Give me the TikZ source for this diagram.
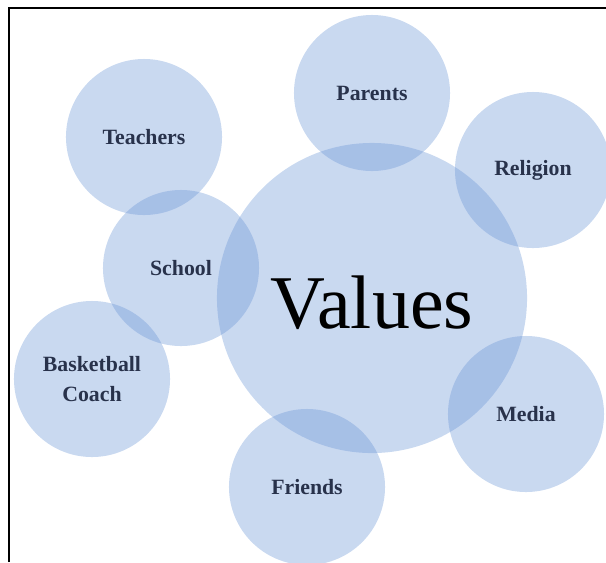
\documentclass[tikz,border=0pt]{standalone}
\usepackage{fontspec}
\setmainfont{Liberation Serif}
\usepackage{xcolor}
\usepackage{tikz}
\definecolor{blauw}{RGB}{100,145,212}
\definecolor{inkt}{RGB}{40,50,75}

\begin{document}
\begin{tikzpicture}[x=0.025cm, y=-0.025cm,
    bel/.style={circle, inner sep=0pt, minimum size=3.9cm, fill=blauw, fill opacity=0.35,
      text opacity=1, text=inkt, align=center, font=\fontsize{15.5}{18}\selectfont\bfseries},
    grotebel/.style={bel, minimum size=7.75cm, text=black, font=\fontsize{54}{60}\selectfont}]
  \useasboundingbox (0,0) rectangle (606,562);
  % Kader (links en boven)
  \draw[line width=2pt] (9,562) -- (9,8) -- (606,8);
  % Kleine bellen
  \node[bel] (leraren) at (144,137) {Teachers};
  \node[bel] (ouders) at (372,93) {Parents};
  \node[bel] (geloof) at (533,170) {Religion};
  \node[bel] (school) at (181,268) {School};
  \node[bel] (coach) at (92,379) {Basketball\\[3pt]Coach};
  \node[bel] (vrienden) at (307,487) {Friends};
  \node[bel] (media) at (526,414) {Media};
  % Centrale bel
  \node[grotebel] (waarden) at (372,298) {};
  \node[text=black, font=\fontsize{54}{60}\selectfont] (woord) at (372,303) {Values};
\end{tikzpicture}
\end{document}
